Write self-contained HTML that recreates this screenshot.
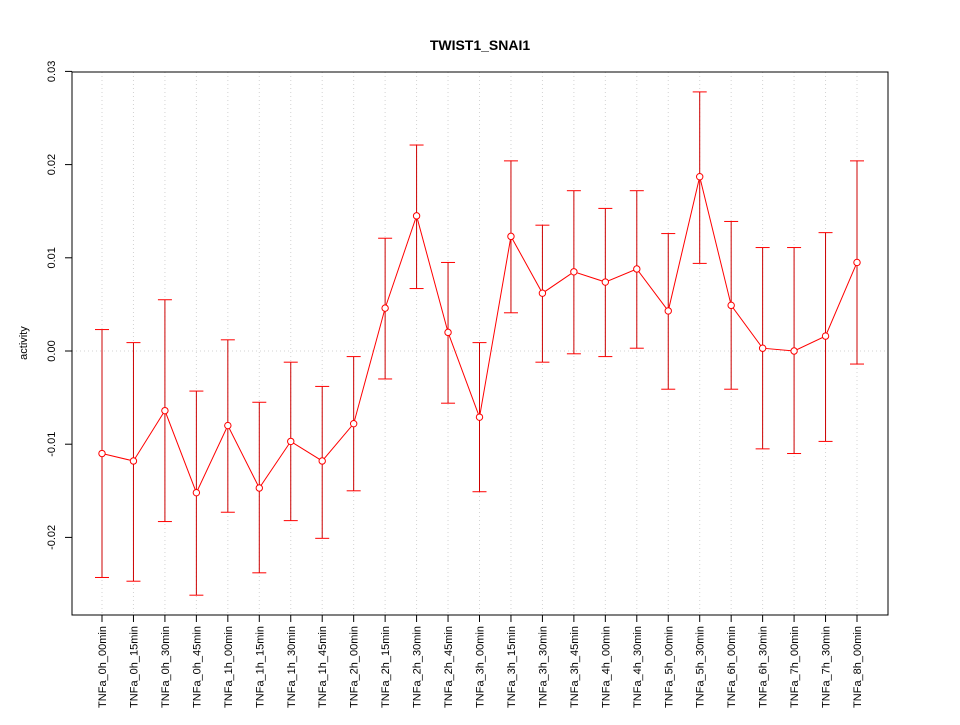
<!DOCTYPE html>
<html><head><meta charset="utf-8"><style>
body{margin:0;background:#fff}
svg text{font-family:"Liberation Sans",sans-serif}
</style></head><body>
<svg id="chart" width="960" height="720" xmlns="http://www.w3.org/2000/svg">
<rect width="960" height="720" fill="#fff"/>
<text x="480" y="50" text-anchor="middle" font-size="14" font-weight="bold">TWIST1_SNAI1</text>
<g id="grid"></g>
<g id="yaxis"></g>
<g id="xaxis"></g>
<g id="series"></g>
<rect x="72" y="72" width="816" height="543" fill="none" stroke="#000"/>
<text transform="translate(27,343) rotate(-90)" text-anchor="middle" font-size="11">activity</text>
</svg>
<script>
const categories=["TNFa_0h_00min","TNFa_0h_15min","TNFa_0h_30min","TNFa_0h_45min","TNFa_1h_00min","TNFa_1h_15min","TNFa_1h_30min","TNFa_1h_45min","TNFa_2h_00min","TNFa_2h_15min","TNFa_2h_30min","TNFa_2h_45min","TNFa_3h_00min","TNFa_3h_15min","TNFa_3h_30min","TNFa_3h_45min","TNFa_4h_00min","TNFa_4h_30min","TNFa_5h_00min","TNFa_5h_30min","TNFa_6h_00min","TNFa_6h_30min","TNFa_7h_00min","TNFa_7h_30min","TNFa_8h_00min"];
const values=[-0.0110,-0.0118,-0.0064,-0.0152,-0.0080,-0.0147,-0.0097,-0.0118,-0.0078,0.0046,0.0145,0.0020,-0.0071,0.0123,0.0062,0.0085,0.0074,0.0088,0.0043,0.0187,0.0049,0.0003,0.0000,0.0016,0.0095];
const upper=[0.0023,0.0009,0.0055,-0.0043,0.0012,-0.0055,-0.0012,-0.0038,-0.0006,0.0121,0.0221,0.0095,0.0009,0.0204,0.0135,0.0172,0.0153,0.0172,0.0126,0.0278,0.0139,0.0111,0.0111,0.0127,0.0204];
const lower=[-0.0243,-0.0247,-0.0183,-0.0262,-0.0173,-0.0238,-0.0182,-0.0201,-0.0150,-0.0030,0.0067,-0.0056,-0.0151,0.0041,-0.0012,-0.0003,-0.0006,0.0003,-0.0041,0.0094,-0.0041,-0.0105,-0.0110,-0.0097,-0.0014];
const yTicks=[-0.02,-0.01,0,0.01,0.02,0.03];
const yTickLabels=["-0.02","-0.01","0.00","0.01","0.02","0.03"];
const NS="http://www.w3.org/2000/svg";
const y=v=>351-v*9320;
const x=i=>102+i*(857-102)/(categories.length-1);
function mk(tag,attrs,parent){const e=document.createElementNS(NS,tag);for(const k in attrs)e.setAttribute(k,attrs[k]);document.getElementById(parent).appendChild(e);return e;}
categories.forEach((c,i)=>{
 let g=mk('line',{x1:x(i),x2:x(i),y1:72,y2:615,stroke:'#d3d3d3','stroke-dasharray':'1,3'},'grid');
 
 
 let t=mk('line',{x1:x(i),x2:x(i),y1:615,y2:622,stroke:'#000'},'xaxis');
 
 
 let l=mk('text',{transform:`translate(${x(i)+4},626) rotate(-90)`,'text-anchor':'end','font-size':'11'},'xaxis');
 l.textContent=c;
 
 
});
let z=mk('line',{x1:72,x2:888,y1:y(0),y2:y(0),stroke:'#d3d3d3','stroke-dasharray':'1,3'},'grid');


let ax=mk('line',{x1:72,x2:72,y1:y(yTicks[0]),y2:y(yTicks[yTicks.length-1]),stroke:'#000'},'yaxis');


yTicks.forEach((v,i)=>{
 let t=mk('line',{x1:65,x2:72,y1:y(v),y2:y(v),stroke:'#000'},'yaxis');
 
 
 let l=mk('text',{transform:`translate(55,${y(v)}) rotate(-90)`,'text-anchor':'middle','font-size':'11'},'yaxis');
 l.textContent=yTickLabels[i];
 
 
});
categories.forEach((c,i)=>{
 let e=mk('line',{x1:x(i),x2:x(i),y1:y(upper[i]),y2:y(lower[i]),stroke:'#c00'},'series');
 
 
 [upper[i],lower[i]].forEach(b=>{
  let cap=mk('line',{x1:x(i)-7,x2:x(i)+7,y1:y(b),y2:y(b),stroke:'#f00'},'series');
  
  
 });
});
let p=mk('polyline',{points:values.map((v,i)=>x(i)+','+y(v)).join(' '),fill:'none',stroke:'#f00'},'series');


values.forEach((v,i)=>{
 let c=mk('circle',{cx:x(i),cy:y(v),r:3.2,fill:'#fff',stroke:'#f00'},'series');
 
 
});
</script>
</body></html>
